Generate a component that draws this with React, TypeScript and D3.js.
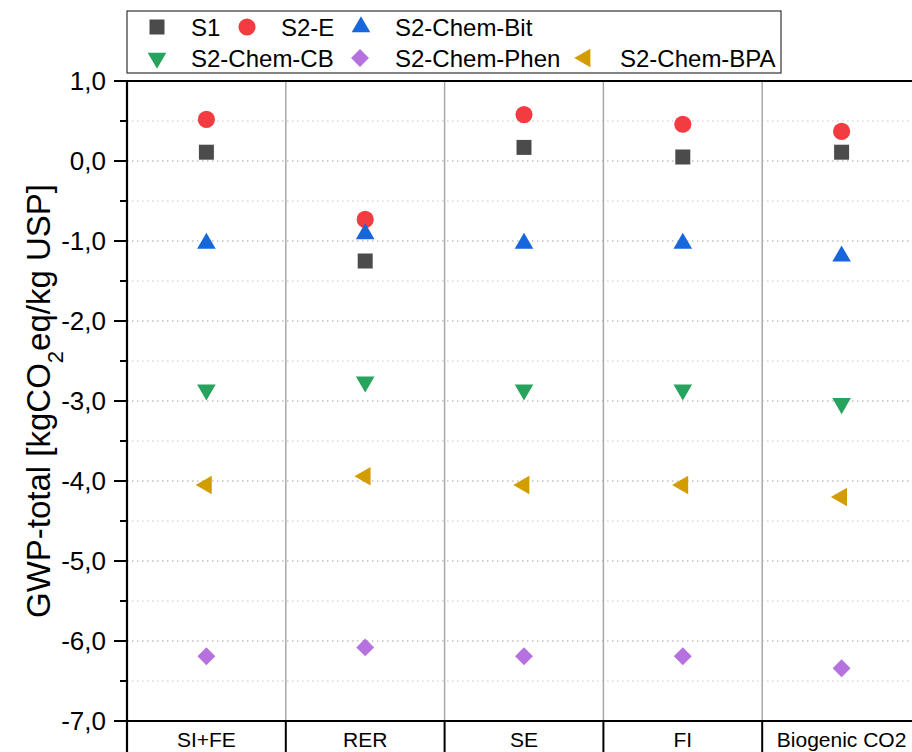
import React from "react";
import * as d3 from "d3";

const categories = ["SI+FE", "RER", "SE", "FI", "Biogenic CO2"];
const seriesNames = ["S1", "S2-E", "S2-Chem-Bit", "S2-Chem-CB", "S2-Chem-Phen", "S2-Chem-BPA"];
const s1 = [0.11, -1.25, 0.17, 0.05, 0.11];
const s2e = [0.52, -0.73, 0.58, 0.46, 0.37];
const s2Bit = [-1.03, -0.91, -1.03, -1.03, -1.19];
const s2CB = [-2.86, -2.76, -2.86, -2.86, -3.03];
const s2Phen = [-6.19, -6.08, -6.19, -6.19, -6.34];
const s2BPA = [-4.05, -3.94, -4.05, -4.05, -4.2];
const yTicks = [1, 0, -1, -2, -3, -4, -5, -6, -7];

const series = [
  { name: seriesNames[0], values: s1, color: "#4b4b4b", shape: d3.symbolSquare, size: 225, rot: 0 },
  { name: seriesNames[1], values: s2e, color: "#f23c41", shape: d3.symbolCircle, size: 230, rot: 0 },
  { name: seriesNames[2], values: s2Bit, color: "#1766dc", shape: d3.symbolTriangle, size: 150, rot: 0 },
  { name: seriesNames[3], values: s2CB, color: "#27a35d", shape: d3.symbolTriangle, size: 150, rot: 180 },
  { name: seriesNames[4], values: s2Phen, color: "#b572de", shape: d3.symbolSquare, size: 160, rot: 45 },
  { name: seriesNames[5], values: s2BPA, color: "#d29d00", shape: d3.symbolTriangle, size: 150, rot: -90 },
];

const W = 912;
const H = 752;
const left = 127;
const top = 81;
const bottom = 721;
const right = 921;
const font = "'Liberation Sans', Arial, sans-serif";

export default function App() {
  const x = d3.scaleBand<string>().domain(categories).range([left, right]);
  const y = d3.scaleLinear().domain([-7, 1]).range([bottom, top]);
  const grid = d3.range(-6.5, 1, 0.5);
  const minor = d3.range(-6.5, 1, 1);
  const sym = (s: any) => d3.symbol().type(s.shape).size(s.size)() as string;

  // legend: symbol x, row y, text x
  const legendPos = [
    [157, 27, 191],
    [247, 27, 281],
    [361, 27, 395],
    [157, 58, 191],
    [360, 58, 395],
    [585, 58, 620],
  ];

  return (
    <div style={{ position: "absolute", left: 0, top: 0 }}>
      <svg width={W} height={H} style={{ display: "block", background: "#fff" }}>
        {grid.map((v) => (
          <line key={"g" + v} x1={left} x2={right} y1={y(v)} y2={y(v)}
            stroke={Number.isInteger(v) ? "#a0a0a0" : "#c8c8c8"} strokeWidth={1.2} strokeDasharray="1.5,3.5" />
        ))}
        {categories.slice(1).map((c) => (
          <line key={"v" + c} x1={x(c)!} x2={x(c)!} y1={top} y2={bottom} stroke="#a8a8a8" strokeWidth={1.5} />
        ))}
        {categories.map((c) => (
          <line key={"b" + c} x1={x(c)!} x2={x(c)!} y1={bottom} y2={H} stroke="#000" strokeWidth={2} />
        ))}
        <line x1={left} x2={right} y1={top} y2={top} stroke="#000" strokeWidth={2.2} />
        <line x1={left} x2={right} y1={bottom} y2={bottom} stroke="#000" strokeWidth={2.2} />
        <line x1={left} x2={left} y1={top - 1} y2={H} stroke="#000" strokeWidth={2.2} />
        {yTicks.map((t) => (
          <g key={"t" + t}>
            <line x1={left - 13} x2={left} y1={y(t)} y2={y(t)} stroke="#000" strokeWidth={2} />
            <text x={106} y={y(t)} dy="0.36em" textAnchor="end" fontFamily={font} fontSize={26} fill="#000">
              {d3.format(".1f")(t).replace(".", ",").replace("−", "-")}
            </text>
          </g>
        ))}
        {minor.map((t) => (
          <line key={"m" + t} x1={left - 7} x2={left} y1={y(t)} y2={y(t)} stroke="#000" strokeWidth={2} />
        ))}
        {categories.map((c) => (
          <text key={"c" + c} x={x(c)! + x.bandwidth() / 2} y={747} textAnchor="middle" fontFamily={font} fontSize={21} fill="#000">
            {c}
          </text>
        ))}
        <text transform={`translate(50, ${(top + bottom) / 2}) rotate(-90)`} textAnchor="middle" fontFamily={font} fontSize={33} fill="#000">
          GWP-total [kgCO<tspan baselineShift="sub" fontSize={22}>2</tspan>eq/kg USP]
        </text>
        {series.map((s) => (
          <g key={s.name}>
            {s.values.map((v, i) => (
              <path key={i} d={sym(s)} fill={s.color}
                transform={`translate(${x(categories[i])! + x.bandwidth() / 2}, ${y(v)}) rotate(${s.rot})`} />
            ))}
          </g>
        ))}
        <rect x={127} y={11} width={654} height={62} fill="#fff" stroke="#333" strokeWidth={1.2} />
        {series.map((s, i) => (
          <g key={"l" + s.name}>
            <path d={sym(s)} fill={s.color} transform={`translate(${legendPos[i][0]}, ${legendPos[i][1]}) rotate(${s.rot})`} />
            <text x={legendPos[i][2]} y={legendPos[i][1]} dy="0.36em" fontFamily={font} fontSize={24} fill="#000">
              {s.name}
            </text>
          </g>
        ))}
      </svg>
    </div>
  );
}
